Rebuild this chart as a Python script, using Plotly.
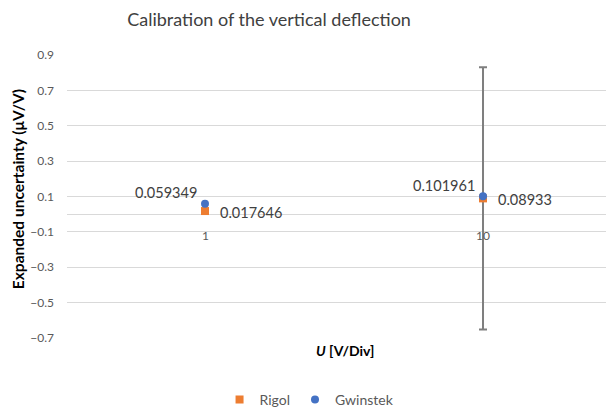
import plotly.graph_objects as go

categories = ["1", "10"]
rigol = [0.017646, 0.08933]
gwinstek = [0.059349, 0.101961]
rigol_err = [0, 0.743]
y_tick_start = 0.1
y_tick_step = 0.2

FONT = "Lato, 'Open Sans', sans-serif"
GRAY = "#595959"

fig = go.Figure()
fig.add_trace(go.Scatter(
    x=categories, y=rigol, mode="markers", name="Rigol",
    marker=dict(symbol="square", size=8, color="#ED7D31"),
    error_y=dict(type="data", array=rigol_err, visible=True,
                 color="#7f7f7f", thickness=2, width=4),
))
fig.add_trace(go.Scatter(
    x=categories, y=gwinstek, mode="markers", name="Gwinstek",
    marker=dict(symbol="circle", size=8, color="#4472C4"),
))

annotations = []
for i, c in enumerate(categories):
    annotations.append(dict(x=i, y=0, xref="x", yref="y", text=c, showarrow=False,
                            yshift=-21, font=dict(family=FONT, size=12, color=GRAY)))
    annotations.append(dict(x=i, y=rigol[i], xref="x", yref="y", text=f"{rigol[i]:g}",
                            showarrow=False, xanchor="left", yanchor="middle",
                            xshift=13, yshift=-1,
                            font=dict(family=FONT, size=14.5, color="#404040")))
    annotations.append(dict(x=i, y=gwinstek[i], xref="x", yref="y", text=f"{gwinstek[i]:g}",
                            showarrow=False, xanchor="right", yanchor="middle",
                            xshift=-6, yshift=11,
                            font=dict(family=FONT, size=14.5, color="#404040")))
annotations.append(dict(x=-0.0909, y=0.526, xref="paper", yref="paper",
                        text="<b>Expanded uncertainty (μV/V)</b>", textangle=-90,
                        showarrow=False, xanchor="center", yanchor="middle",
                        font=dict(family=FONT, size=15.5, color="#000000")))
annotations.append(dict(x=0.516, y=-0.045, xref="paper", yref="paper",
                        text="<b><i>U</i> [V/Div]</b>", showarrow=False,
                        xanchor="center", yanchor="middle",
                        font=dict(family=FONT, size=14, color="#000000")))

fig.update_layout(
    width=606, height=416,
    margin=dict(l=67, r=0, t=55, b=74),
    paper_bgcolor="white", plot_bgcolor="white",
    title=dict(text="Calibration of the vertical deflection", xref="container", yref="container",
               x=0.444, y=0.952, xanchor="center", yanchor="middle",
               font=dict(family=FONT, size=18, color="#404040")),
    xaxis=dict(type="category", range=[-0.4964, 1.4424], showgrid=False, showticklabels=False,
               zeroline=False, showline=False, ticks=""),
    yaxis=dict(range=[-0.7015, 0.9015], tickmode="linear", tick0=y_tick_start, dtick=y_tick_step,
               tickformat=".1f",
               showgrid=True, gridcolor="#d9d9d9", gridwidth=1,
               zeroline=True, zerolinecolor="#d9d9d9", zerolinewidth=1,
               showline=False, ticklabelstandoff=12,
               tickfont=dict(family=FONT, size=12, color=GRAY)),
    legend=dict(orientation="h", x=0.45, y=-0.2195, xanchor="center", yanchor="middle",
                font=dict(family=FONT, size=14, color=GRAY), itemwidth=30),
    showlegend=True,
    annotations=annotations,
)

fig.write_html("out.html")
